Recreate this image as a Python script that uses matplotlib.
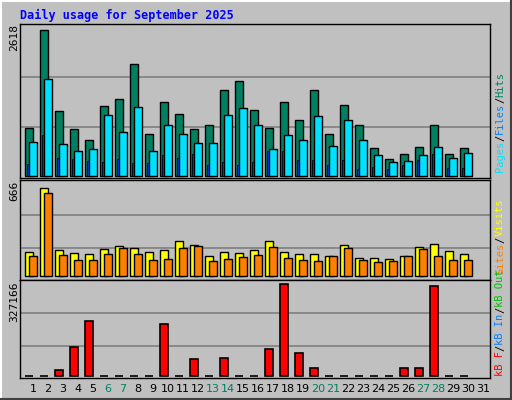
import matplotlib
matplotlib.use("Agg")
import matplotlib.pyplot as plt
import numpy as np

days = list(range(1, 32))
hits = [859, 2618, 1161, 841, 646, 1250, 1374, 1996, 752, 1321, 1108, 841, 912, 1534, 1694,
        1179, 859, 1321, 1001, 1534, 752, 1268, 912, 503, 308, 397, 521, 912, 397, 503, 0]
files = [610, 1730, 575, 450, 486, 1090, 788, 1232, 450, 912, 752, 592, 592, 1090, 1214,
         912, 486, 734, 646, 1072, 539, 1001, 646, 379, 255, 272, 379, 521, 326, 415, 0]
pages = [219, 734, 326, 308, 272, 255, 308, 237, 237, 379, 326, 397, 201, 255, 201,
         255, 450, 450, 290, 290, 201, 290, 130, 166, 130, 201, 290, 397, 148, 148, 0]
visits = [181, 666, 195, 174, 166, 203, 232, 210, 181, 195, 268, 239, 152, 181, 174,
          195, 268, 181, 166, 166, 152, 239, 138, 138, 130, 152, 224, 246, 188, 166, 0]
sites = [152, 630, 159, 123, 123, 166, 210, 166, 123, 130, 217, 232, 116, 130, 145,
         159, 224, 138, 123, 116, 152, 217, 123, 109, 116, 152, 203, 152, 123, 123, 0]
kbytes = [0, 0, 19100, 101500, 194600, 0, 0, 0, 0, 183900, 0, 58500, 0, 62100, 0,
          0, 94300, 327166, 80000, 26300, 0, 0, 0, 0, 0, 26300, 26300, 320000, 0, 0, 0]
weekend = [6, 7, 13, 14, 20, 21, 27, 28]

W, H = 512, 400
BG = "#c0c0c0"
fig = plt.figure(figsize=(W/100, H/100), dpi=100, facecolor=BG)

def ax_at(x0, y0, x1, y1):
    return fig.add_axes([x0/W, 1 - y1/H, (x1-x0)/W, (y1-y0)/H])

n = 30
x = np.arange(31)
bw = 0.53
xl = (-0.333, 31.0)

def style(ax, ylim, grids):
    ax.set_facecolor(BG)
    ax.set_xlim(*xl)
    ax.set_ylim(*ylim)
    ax.set_xticks([]); ax.set_yticks([])
    for g in grids:
        ax.axhline(g, color="#808080", lw=1.2, zorder=0)
    for s in ax.spines.values():
        s.set_color("black"); s.set_linewidth(1)

a1 = ax_at(20, 24, 490, 178)
style(a1, (-30, 2718), [877, 1776])
a1.bar(x[:n], hits[:n], width=bw, align="edge", color="#008060", edgecolor="black", lw=1, zorder=2)
a1.bar(x[:n] + 0.267, files[:n], width=bw, align="edge", color="#00e0ff", edgecolor="black", lw=1, zorder=3)
a1.bar(x[:n] + 0.133, pages[:n], width=0.12, align="edge", color="#0040ff", edgecolor="black", lw=0.6, zorder=2.5)

a2 = ax_at(20, 180, 490, 280)
style(a2, (-27, 724), [217, 458])
a2.bar(x[:n], visits[:n], width=bw, align="edge", color="#ffff00", edgecolor="black", lw=1, zorder=2)
a2.bar(x[:n] + 0.267, sites[:n], width=bw, align="edge", color="#ff8000", edgecolor="black", lw=1, zorder=3)

a3 = ax_at(20, 280, 490, 378)
style(a3, (-8200, 342600), [105100, 224500])
a3.bar(x[:n], kbytes[:n], width=bw, align="edge", color="#ff0000", edgecolor="black", lw=1.2, zorder=2)

for d in days:
    c = "#008060" if d in weekend else "black"
    fig.text((20 + (d - 1 + 0.533 + 0.333) * 15) / W, 1 - 389/H, str(d), ha="center", va="center",
             fontsize=8, color=c, family="DejaVu Sans")

fig.text(20/W, 1 - 15/H, "Daily usage for September 2025", color="#0000ff", fontsize=8.5,
         fontweight="bold", family="DejaVu Sans Mono", va="center", ha="left")

for lab, ytop in [("2618", 24), ("666", 181), ("327166", 281)]:
    fig.text(14/W, 1 - ytop/H, lab, rotation=90, fontsize=8, family="DejaVu Sans Mono",
             va="top", ha="center")

FS = 7.5
cw = 0.602 * FS * 100 / 72
def vstack(xpix, ybot, parts):
    y = ybot
    for t, c in parts:
        fig.text(xpix/W, 1 - y/H, t, rotation=90, fontsize=FS, family="DejaVu Sans Mono",
                 color=c, va="bottom", ha="center")
        y -= cw * len(t)

vstack(500, 172, [("Pages", "#00e0ff"), ("/", "black"), ("Files", "#0080ff"), ("/", "black"), ("Hits", "#008060")])
vstack(500, 274, [("Sites", "#ff8000"), ("/", "black"), ("Visits", "#ffff00")])
vstack(500, 376, [("kB F", "#ff0000"), ("/", "black"), ("kB In", "#0080ff"), ("/", "black"), ("kB Out", "#00c000")])

from matplotlib.lines import Line2D
def pl(xs, ys, c, lw=1.5):
    fig.add_artist(Line2D([v/W for v in xs], [1 - v/H for v in ys], color=c, lw=lw))
pl([1, 511], [1, 1], "white"); pl([1, 1], [1, 399], "white")
pl([511, 511], [1, 399], "#404040"); pl([1, 511], [399, 399], "#404040")

fig.savefig("out.png", dpi=100, facecolor=BG)
